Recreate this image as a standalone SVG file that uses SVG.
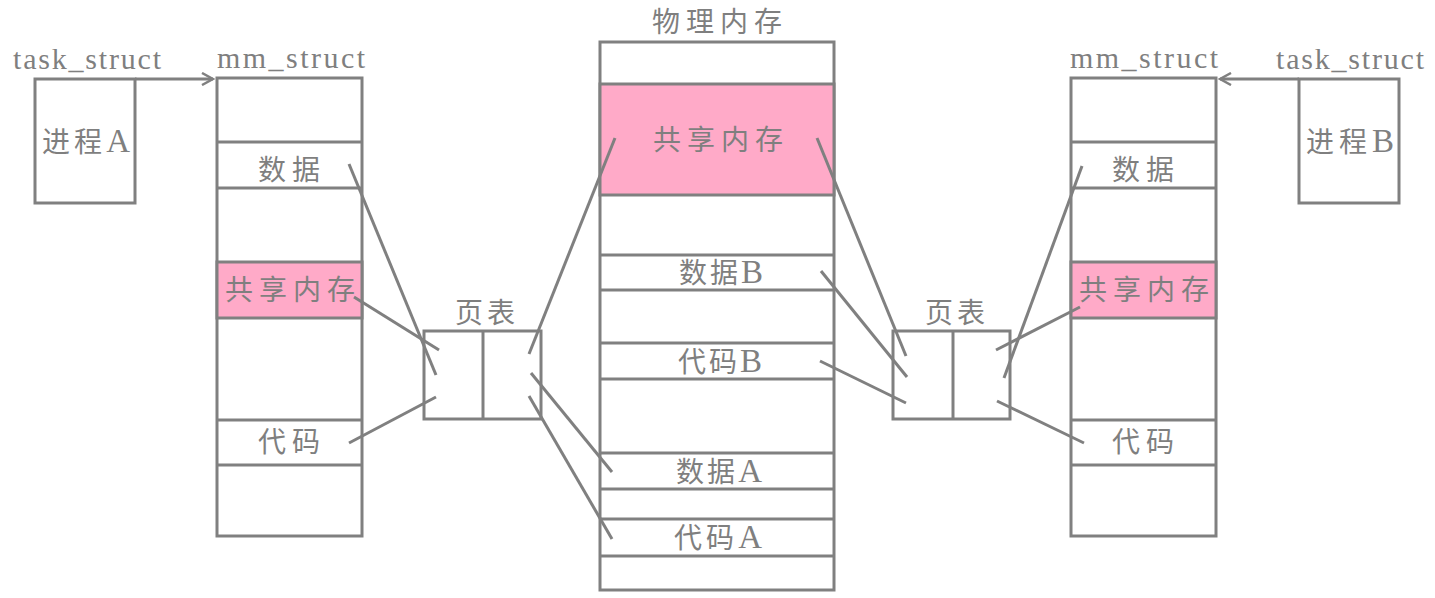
<svg xmlns="http://www.w3.org/2000/svg" width="1435" height="598" viewBox="0 0 1435 598">
<style>
.box{fill:#fff;stroke:#808080;stroke-width:3}
.pink{fill:#ffaac8;stroke:#808080;stroke-width:3}
.ln{stroke:#808080;stroke-width:3;fill:none}
.cn{font-family:"Liberation Serif","Noto Sans CJK SC",serif;font-size:28px;fill:#7f7f7f;text-anchor:middle}
.en{font-family:"Liberation Serif","Noto Sans CJK SC",serif;font-size:30px;fill:#7f7f7f;text-anchor:middle}
.big{font-size:33px}
</style>
<defs>
<marker id="arr" markerWidth="14" markerHeight="14" refX="12" refY="7" orient="auto" markerUnits="userSpaceOnUse">
<path d="M1,1 L12,7 L1,13" fill="none" stroke="#808080" stroke-width="2.5"/>
</marker>
</defs>

<g id="taskA">
<rect class="box" x="35" y="79" width="100" height="124"/>
<text class="en" x="87" y="69" textLength="148" lengthAdjust="spacing">task_struct</text>
<text class="cn" x="86" y="152" textLength="88" lengthAdjust="spacing">进程<tspan class="big">A</tspan></text>
</g>

<g id="mmA">
<rect class="box" x="217" y="78" width="145" height="458"/>
<rect class="pink" x="217" y="262" width="145" height="56"/>
<line class="ln" x1="217" y1="142" x2="362" y2="142"/>
<line class="ln" x1="217" y1="188" x2="362" y2="188"/>
<line class="ln" x1="217" y1="420" x2="362" y2="420"/>
<line class="ln" x1="217" y1="465" x2="362" y2="465"/>
<text class="en" x="291" y="68" textLength="148" lengthAdjust="spacing">mm_struct</text>
<text class="cn" x="289" y="180" textLength="62" lengthAdjust="spacing">数据</text>
<text class="cn" x="290" y="300" textLength="130" lengthAdjust="spacing">共享内存</text>
<text class="cn" x="289" y="452" textLength="62" lengthAdjust="spacing">代码</text>
</g>

<g id="ptA">
<rect class="box" x="424" y="331" width="117" height="88"/>
<line class="ln" x1="483" y1="331" x2="483" y2="419"/>
<text class="cn" x="485" y="323" textLength="60" lengthAdjust="spacing">页表</text>
</g>

<g id="phys">
<rect class="box" x="600" y="42" width="234" height="548"/>
<rect class="pink" x="600" y="84" width="234" height="111"/>
<line class="ln" x1="600" y1="255" x2="834" y2="255"/>
<line class="ln" x1="600" y1="290" x2="834" y2="290"/>
<line class="ln" x1="600" y1="343" x2="834" y2="343"/>
<line class="ln" x1="600" y1="379" x2="834" y2="379"/>
<line class="ln" x1="600" y1="453" x2="834" y2="453"/>
<line class="ln" x1="600" y1="489" x2="834" y2="489"/>
<line class="ln" x1="600" y1="519" x2="834" y2="519"/>
<line class="ln" x1="600" y1="556" x2="834" y2="556"/>
<text class="cn" x="717" y="32" textLength="130" lengthAdjust="spacing">物理内存</text>
<text class="cn" x="718" y="150" textLength="130" lengthAdjust="spacing">共享内存</text>
<text class="cn" x="721" y="283" textLength="84" lengthAdjust="spacing">数据<tspan class="big">B</tspan></text>
<text class="cn" x="720" y="372" textLength="84" lengthAdjust="spacing">代码<tspan class="big">B</tspan></text>
<text class="cn" x="719" y="482" textLength="86" lengthAdjust="spacing">数据<tspan class="big">A</tspan></text>
<text class="cn" x="718" y="548" textLength="88" lengthAdjust="spacing">代码<tspan class="big">A</tspan></text>
</g>

<g id="ptB">
<rect class="box" x="893" y="331" width="117" height="88"/>
<line class="ln" x1="953" y1="331" x2="953" y2="419"/>
<text class="cn" x="955" y="323" textLength="60" lengthAdjust="spacing">页表</text>
</g>

<g id="mmB">
<rect class="box" x="1071" y="78" width="145" height="458"/>
<rect class="pink" x="1071" y="262" width="145" height="56"/>
<line class="ln" x1="1071" y1="142" x2="1216" y2="142"/>
<line class="ln" x1="1071" y1="188" x2="1216" y2="188"/>
<line class="ln" x1="1071" y1="420" x2="1216" y2="420"/>
<line class="ln" x1="1071" y1="465" x2="1216" y2="465"/>
<text class="en" x="1144" y="68" textLength="148" lengthAdjust="spacing">mm_struct</text>
<text class="cn" x="1143" y="180" textLength="62" lengthAdjust="spacing">数据</text>
<text class="cn" x="1144" y="300" textLength="130" lengthAdjust="spacing">共享内存</text>
<text class="cn" x="1143" y="452" textLength="62" lengthAdjust="spacing">代码</text>
</g>

<g id="taskB">
<rect class="box" x="1299" y="79" width="100" height="124"/>
<text class="en" x="1350" y="69" textLength="148" lengthAdjust="spacing">task_struct</text>
<text class="cn" x="1350" y="152" textLength="88" lengthAdjust="spacing">进程<tspan class="big">B</tspan></text>
</g>

<g id="connectors">
<line class="ln" x1="135" y1="79" x2="213" y2="79" marker-end="url(#arr)"/>
<line class="ln" x1="1299" y1="79" x2="1220" y2="79" marker-end="url(#arr)"/>
<line class="ln" x1="349" y1="164" x2="436" y2="375"/>
<line class="ln" x1="354" y1="297" x2="439" y2="350"/>
<line class="ln" x1="349" y1="443" x2="436" y2="397"/>
<line class="ln" x1="529" y1="354" x2="615" y2="138"/>
<line class="ln" x1="531" y1="373" x2="612" y2="472"/>
<line class="ln" x1="529" y1="396" x2="612" y2="539"/>
<line class="ln" x1="817" y1="138" x2="906" y2="356"/>
<line class="ln" x1="821" y1="271" x2="907" y2="377"/>
<line class="ln" x1="820" y1="361" x2="906" y2="403"/>
<line class="ln" x1="1004" y1="378" x2="1082" y2="166"/>
<line class="ln" x1="996" y1="350" x2="1080" y2="307"/>
<line class="ln" x1="997" y1="401" x2="1084" y2="443"/>
</g>
</svg>
